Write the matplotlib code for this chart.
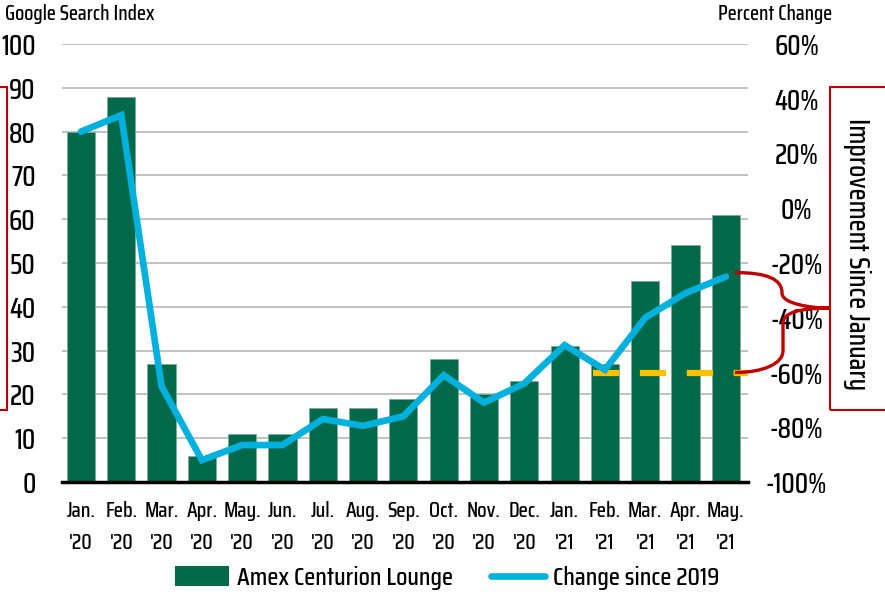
import numpy as np
import matplotlib.pyplot as plt
from matplotlib.path import Path
from matplotlib.patches import PathPatch, Rectangle, Patch
from matplotlib.lines import Line2D
import matplotlib.transforms as mtransforms

plt.rcParams['font.family'] = ['Saira Condensed', 'Pathway Gothic One', 'Archivo Narrow', 'DejaVu Sans']
plt.rcParams['font.weight'] = 'medium'

months = ["Jan.\n'20", "Feb.\n'20", "Mar.\n'20", "Apr.\n'20", "May.\n'20", "Jun.\n'20",
          "Jul.\n'20", "Aug.\n'20", "Sep.\n'20", "Oct.\n'20", "Nov.\n'20", "Dec.\n'20",
          "Jan.\n'21", "Feb.\n'21", "Mar.\n'21", "Apr.\n'21", "May.\n'21"]
search_index = [80, 88, 27, 6, 11, 11, 17, 17, 19, 28, 20, 23, 31, 27, 46, 54, 61]
pct_change = [28, 34, -65, -92, -86.5, -86.5, -77, -79.5, -76, -61, -71, -64, -50, -59, -40, -31, -25]
jan_level = -60

green = '#00694A'
cyan = '#00B0DD'
yellow = '#FFC000'
red = '#C00000'

fig = plt.figure(figsize=(8.85, 5.95), dpi=100)
ax = fig.add_axes([62/885, 1-482/595, 686/885, 438/595])
x = np.arange(len(months))

ax.bar(x, search_index, width=0.7, color=green, edgecolor='#7FA898', linewidth=0.6, zorder=2)
ax.set_ylim(0, 100)
ax.set_yticks(range(0, 101, 10))
ax.set_xlim(-0.47, 16.55)
ax.set_xticks(x)
ax.set_xticklabels(months, fontsize=15.5, linespacing=1.7)
ax.grid(axis='y', color='#B4B6B8', linewidth=1.2, zorder=0)
ax.set_axisbelow(True)
for s in ['top', 'right', 'left']:
    ax.spines[s].set_visible(False)
ax.spines['bottom'].set_linewidth(2.5)
ax.tick_params(axis='x', length=0, pad=14)
ax.tick_params(axis='y', length=0, pad=19, labelsize=20)

ax2 = ax.twinx()
ax2.plot(x, pct_change, color=cyan, linewidth=4.8, solid_capstyle='round',
         solid_joinstyle='miter', zorder=3)
ax2.plot([12.7, 16.55], [jan_level, jan_level], color=yellow, linewidth=4.5,
         dashes=(4.2, 3.3), zorder=2)
ax2.set_ylim(-100, 60)
ax2.set_yticks(range(-100, 61, 20))
ax2.set_yticklabels([f'{v}%' for v in range(-100, 61, 20)])
for s in ax2.spines.values():
    s.set_visible(False)
ax2.tick_params(axis='y', length=0, pad=35, labelsize=20)
for lab in ax2.get_yticklabels():
    lab.set_horizontalalignment('center')

# brace from current level down to January level
trans = mtransforms.blended_transform_factory(ax2.transAxes, ax2.transData)
def fx(px):
    return (px - 62) / 686
verts = [(fx(735), -23.5), (fx(768), -23.5), (fx(782), -26), (fx(782), -31),
         (fx(782), -35), (fx(812), -36.5), (fx(830), -36.5),
         (fx(800), -36.5), (fx(783), -38), (fx(783), -42),
         (fx(783), -52),
         (fx(783), -57), (fx(762), -60), (fx(735), -60)]
codes = [Path.MOVETO, Path.CURVE4, Path.CURVE4, Path.CURVE4,
         Path.CURVE4, Path.CURVE4, Path.CURVE4,
         Path.CURVE4, Path.CURVE4, Path.CURVE4,
         Path.LINETO,
         Path.CURVE4, Path.CURVE4, Path.CURVE4]
ax2.add_patch(PathPatch(Path(verts, codes), transform=trans, fill=False,
                        edgecolor=red, linewidth=2.4, clip_on=False, zorder=4))

# boxes at figure edges
fig.patches.append(Rectangle((830/885, 1-410/595), 0.1, 323/595, transform=fig.transFigure,
                             fill=False, edgecolor=red, linewidth=1.5))
fig.patches.append(Rectangle((-0.1, 1-410/595), 0.1 + 7/885, 323/595, transform=fig.transFigure,
                             fill=False, edgecolor=red, linewidth=1.5))
fig.text(857/885, 1-254/595, 'Improvement Since January', rotation=270,
         ha='center', va='center', fontsize=20)

fig.text(5/885, 1-14/595, 'Google Search Index', ha='left', va='center', fontsize=15)
fig.text(775/885, 1-14/595, 'Percent Change', ha='center', va='center', fontsize=15)

handles = [Patch(facecolor=green, edgecolor='none'),
           Line2D([0], [0], color=cyan, linewidth=4.8, solid_capstyle='round')]
fig.legend(handles, ['Amex Centurion Lounge', 'Change since 2019'], loc='center',
           bbox_to_anchor=(447/885, 1-578/595), ncol=2, frameon=False, fontsize=18.5,
           handlelength=2.1, handleheight=0.85, handletextpad=0.3, columnspacing=1.5)

fig.savefig('out.png', dpi=100)
